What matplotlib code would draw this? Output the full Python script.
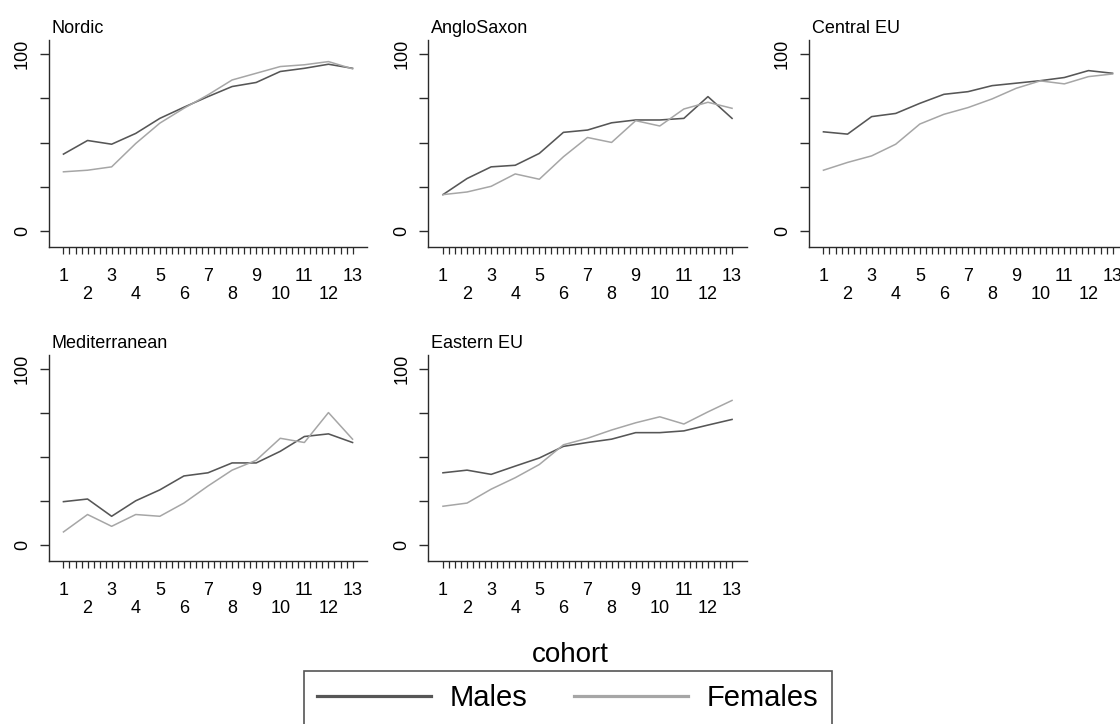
import numpy as np
import matplotlib
matplotlib.use("Agg")
import matplotlib.pyplot as plt
from matplotlib.lines import Line2D

plt.rcParams['font.family'] = ['Liberation Sans', 'DejaVu Sans']

cohorts = list(range(1, 14))
regions = ["Nordic", "AngloSaxon", "Central EU", "Mediterranean", "Eastern EU"]

nordic_m = [43.5, 51.2, 49.1, 55.2, 63.7, 70.0, 76.0, 81.7, 84.0, 90.2, 92.0, 94.3, 92.0]
nordic_f = [33.5, 34.4, 36.3, 49.5, 61.0, 69.4, 77.0, 85.4, 89.2, 93.0, 94.0, 95.8, 91.7]
anglo_m = [20.6, 29.7, 36.3, 37.2, 43.9, 55.8, 57.1, 61.2, 62.8, 62.8, 63.7, 76.0, 63.7]
anglo_f = [20.6, 22.1, 25.3, 32.3, 29.3, 42.0, 52.9, 50.1, 62.4, 59.4, 69.0, 72.8, 69.4]
central_m = [56.1, 54.8, 64.7, 66.5, 72.2, 77.3, 78.8, 82.2, 83.6, 85.0, 86.8, 90.7, 89.2]
central_f = [34.4, 38.8, 42.5, 49.1, 60.5, 66.0, 69.8, 74.7, 80.7, 84.9, 83.2, 87.3, 88.8]
med_m = [24.7, 26.2, 16.4, 25.2, 31.4, 39.3, 41.1, 46.7, 46.7, 53.3, 61.7, 63.2, 58.3]
med_f = [7.5, 17.4, 10.7, 17.4, 16.4, 23.9, 33.6, 42.6, 48.2, 60.7, 58.3, 75.3, 60.2]
east_m = [41.1, 42.6, 40.2, 44.9, 49.5, 56.1, 58.3, 60.2, 63.9, 63.9, 64.9, 68.2, 71.4]
east_f = [22.1, 23.9, 31.8, 38.3, 45.8, 57.0, 60.7, 65.4, 69.5, 72.9, 68.8, 75.7, 82.2]

males = [nordic_m, anglo_m, central_m, med_m, east_m]
females = [nordic_f, anglo_f, central_f, med_f, east_f]

y_ticks = [0, 25, 50, 75, 100]
y_labels = ["0", "", "", "", "100"]

MALE_C = "#565656"
FEMALE_C = "#a6a6a6"
AX_C = "#2a2a2a"

W, H = 1120, 724
fig = plt.figure(figsize=(W / 100, H / 100), dpi=100)
fig.patch.set_facecolor("white")

col_left = [49, 428.5, 809]
row_tb = [(40, 247), (355, 561)]
pw = 318

for i, name in enumerate(regions):
    r, c = divmod(i, 3)
    top, bot = row_tb[r]
    ax = fig.add_axes([col_left[c] / W, 1 - bot / H, pw / W, (bot - top) / H])
    ax.plot(cohorts, males[i], color=MALE_C, lw=1.15, solid_joinstyle="round")
    ax.plot(cohorts, females[i], color=FEMALE_C, lw=1.1, solid_joinstyle="round")
    ax.set_xlim(0.4, 13.6)
    ax.set_ylim(-9, 108)
    for s in ["top", "right"]:
        ax.spines[s].set_visible(False)
    for s in ["left", "bottom"]:
        ax.spines[s].set_color(AX_C)
        ax.spines[s].set_linewidth(1.0)
    ax.set_yticks(y_ticks)
    ax.set_yticklabels(y_labels, rotation=90, va="center", fontsize=13)
    ax.tick_params(axis="y", length=6.5, width=1.0, color=AX_C, pad=6.5)
    ax.set_xticks(cohorts)
    ax.set_xticklabels([str(k) if k % 2 == 1 else "\n" + str(k) for k in cohorts], fontsize=13)
    for lbl in ax.get_xticklabels():
        lbl.set_linespacing(1.08)
    ax.set_xticks(np.arange(1, 13.001, 0.25), minor=True)
    ax.tick_params(axis="x", which="both", length=5, width=0.9, color=AX_C, pad=10)
    ax.set_title(name, loc="left", x=0.008, pad=5, fontsize=13)

fig.text(570 / W, 1 - 662 / H, "cohort", ha="center", va="baseline", fontsize=20)

handles = [Line2D([], [], color=MALE_C, lw=2.3), Line2D([], [], color=FEMALE_C, lw=2.3)]
leg = fig.legend(handles, ["Males", "Females"], loc="upper center",
                 bbox_to_anchor=(568 / W, 1 - 671 / H), ncol=2, frameon=True,
                 fancybox=False, edgecolor=AX_C, fontsize=21, handlelength=3.9,
                 handletextpad=0.65, columnspacing=1.6, borderpad=0.45,
                 borderaxespad=0)
leg.get_frame().set_linewidth(1.2)

fig.savefig("out.png", dpi=100)
